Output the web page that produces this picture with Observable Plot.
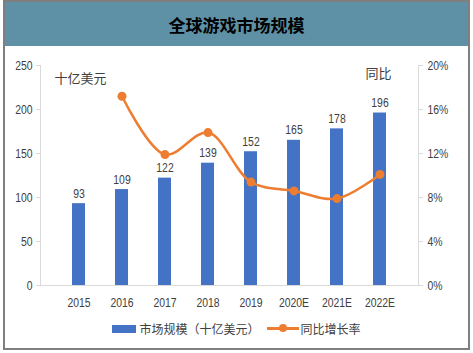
<!DOCTYPE html>
<html><head><meta charset="utf-8">
<script src="https://cdn.jsdelivr.net/npm/d3@7"></script>
<script src="https://cdn.jsdelivr.net/npm/@observablehq/plot@0.6"></script>
<style>
body{margin:0;background:#fff;}
#frame{position:absolute;left:3px;top:0;width:467px;height:350px;border:2px solid #7f7f7f;box-sizing:border-box;}
#title{position:absolute;left:3px;top:0;width:467px;height:46px;background:#5f91a6;border:2px solid #7f7f7f;border-bottom:none;box-sizing:border-box;
 font-family:"Noto Sans CJK SC",sans-serif;font-weight:bold;font-size:17px;color:#000;text-align:center;line-height:46px;}
#chart{position:absolute;left:0;top:46px;}
#legend{position:absolute;left:0;top:320px;width:473px;display:flex;justify-content:center;align-items:center;
 font-family:"Noto Sans CJK SC",sans-serif;font-size:12px;color:#404040;}
.sw{display:inline-block;width:24px;height:8px;background:#4472c4;margin-right:3px;margin-left:0px}
.ln{display:inline-block;position:relative;width:32px;height:3px;background:#ed7d31;margin-left:7px;margin-right:2px}
.ln i{position:absolute;left:12px;top:-3px;width:8px;height:8px;border-radius:50%;background:#ed7d31}
</style></head>
<body>
<div id="frame"></div>
<div id="title">全球游戏市场规模</div>
<div id="chart"></div>
<div id="legend"><span class="sw"></span><span>市场规模（十亿美元）</span><span class="ln"><i></i></span><span>同比增长率</span></div>
<script>
const years = ["2015","2016","2017","2018","2019","2020E","2021E","2022E"];
const marketSize = [93,109,122,139,152,165,178,196];
const growthRate = [null,0.172,0.119,0.139,0.094,0.086,0.079,0.101];
const leftTicks = [0,50,100,150,200,250];
const rightTicks = [0,0.04,0.08,0.12,0.16,0.20];
const leftUnit = "十亿美元";
const rightUnit = "同比";

const ratio = 250/0.20;
const bars = years.map((y,i)=>({year:y, value:marketSize[i]}));
const line = years.map((y,i)=>({year:y, g:growthRate[i]})).filter(d=>d.g!=null);

const numFont = '"Liberation Sans",Arial,sans-serif';
const cjk = '"Noto Sans CJK SC",sans-serif';

const chart = Plot.plot({
  width:473, height:267,
  marginTop:19, marginBottom:(46+267)-285, marginLeft:40, marginRight:55,
  style:{fontFamily:numFont, fontSize:"13px", color:"#404040", background:"transparent"},
  x:{domain:years, padding:0.69, label:null},
  y:{domain:[0,250], label:null},
  marks:[
    Plot.frame({anchor:"left", stroke:"#d9d9d9"}),
    Plot.frame({anchor:"right", stroke:"#d9d9d9"}),
    Plot.ruleY([0],{stroke:"#d9d9d9"}),
    Plot.axisY({ticks:leftTicks, anchor:"left", tickSize:4, tickPadding:4, stroke:"#d9d9d9", label:null, fontSize:13, fill:"#404040"}),
    Plot.axisY({ticks:rightTicks.map(t=>t*ratio), anchor:"right", tickSize:4, tickPadding:5, stroke:"#d9d9d9", label:null,
      tickFormat:d=>Math.round(d/ratio*100)+"%", fontSize:13, fill:"#404040"}),
    Plot.axisX({tickSize:0, tickPadding:12, label:null, fontSize:13, fill:"#404040"}),
    Plot.barY(bars,{x:"year", y:"value", fill:"#4472c4"}),
    Plot.text(bars,{x:"year", y:"value", text:d=>String(d.value), lineAnchor:"bottom", dy:-6, fill:"#404040", fontSize:13}),
    Plot.line(line,{x:"year", y:d=>d.g*ratio, stroke:"#ed7d31", strokeWidth:2.5, curve:"catmull-rom"}),
    Plot.dot(line,{x:"year", y:d=>d.g*ratio, r:4.5, fill:"#ed7d31", stroke:"none"}),
    Plot.text([leftUnit],{frameAnchor:"top-left", text:d=>d, dx:14, dy:8, fontFamily:cjk, fontSize:13, fill:"#404040", textAnchor:"start"}),
    Plot.text([rightUnit],{frameAnchor:"top-right", text:d=>d, dx:-27, dy:3, fontFamily:cjk, fontSize:13, fill:"#404040", textAnchor:"end"})
  ]
});
// condense numeric labels to mimic a narrow font
chart.querySelectorAll("text").forEach(t=>{
  if(/^[\d%E.]+$/.test(t.textContent.trim())){
    const tr=t.getAttribute("transform");
    if(tr && !t.hasAttribute("x")) t.setAttribute("transform", tr+" scale(0.8,1)");
  }
});
document.getElementById("chart").appendChild(chart);
</script>
</body></html>
